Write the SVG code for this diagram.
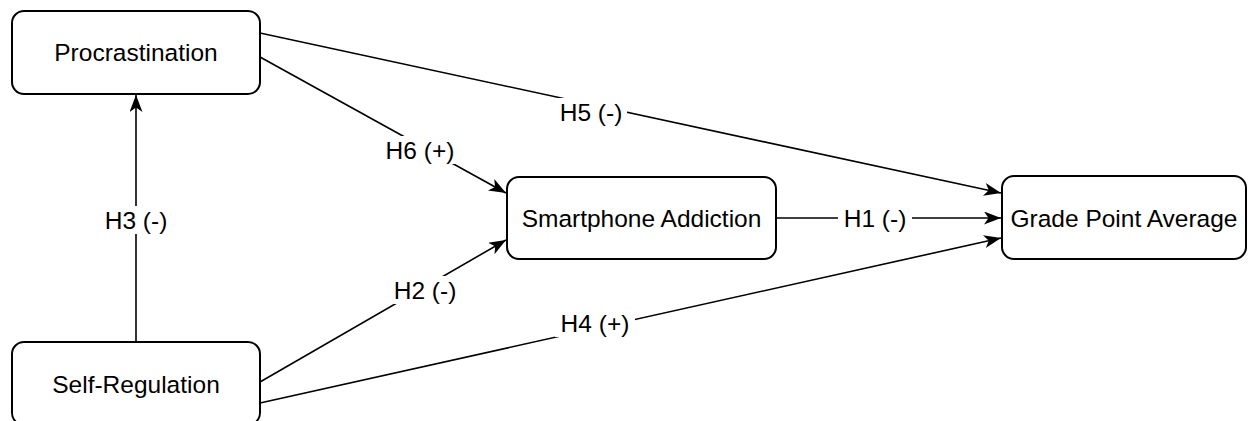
<svg xmlns="http://www.w3.org/2000/svg" width="1248" height="421" viewBox="0 0 1248 421">
<style>
.node rect{fill:#fff;stroke:#000;stroke-width:2}
text{font-family:"Liberation Sans",Arial,Helvetica,sans-serif;font-size:24.5px;fill:#000;text-anchor:middle;dominant-baseline:central}
.edge{stroke:#000;stroke-width:1.6;fill:none}
.lbl rect{fill:#fff}
</style>
<defs>
<marker id="arr" markerUnits="userSpaceOnUse" markerWidth="20" markerHeight="16" refX="17" refY="6.5" orient="auto">
<path d="M0,0 L17,6.5 L0,13 L4.5,6.5 Z" fill="#000"/>
</marker>
</defs>
<rect width="1248" height="421" fill="#fff"/>
<g id="connectors">
<line class="edge" x1="136" y1="342" x2="136" y2="95" marker-end="url(#arr)"/>
<line class="edge" x1="260" y1="57" x2="506" y2="193" marker-end="url(#arr)"/>
<line class="edge" x1="260" y1="33" x2="1001" y2="193" marker-end="url(#arr)"/>
<line class="edge" x1="776" y1="218" x2="1001" y2="218" marker-end="url(#arr)"/>
<line class="edge" x1="260" y1="382" x2="506" y2="240" marker-end="url(#arr)"/>
<line class="edge" x1="260" y1="403" x2="1001" y2="238" marker-end="url(#arr)"/>
<g class="lbl">
<rect x="99" y="206" width="74" height="28"/><text x="136" y="220">H3 (-)</text>
<rect x="380" y="136" width="80" height="28"/><text x="420" y="150">H6 (+)</text>
<rect x="555" y="98" width="72" height="28"/><text x="591" y="112">H5 (-)</text>
<rect x="838" y="204" width="74" height="28"/><text x="875" y="218">H1 (-)</text>
<rect x="389" y="276" width="72" height="28"/><text x="425" y="290">H2 (-)</text>
<rect x="555" y="309" width="80" height="28"/><text x="595" y="323">H4 (+)</text>
</g>
</g>
<g id="procrastination" class="node"><rect x="12" y="11" width="248" height="83" rx="12"/><text x="136" y="52.5">Procrastination</text></g>
<g id="self-regulation" class="node"><rect x="12" y="342" width="248" height="83" rx="12"/><text x="136" y="384">Self-Regulation</text></g>
<g id="smartphone-addiction" class="node"><rect x="507" y="177" width="269" height="82" rx="12"/><text x="641.5" y="218">Smartphone Addiction</text></g>
<g id="gpa" class="node"><rect x="1002" y="176" width="244" height="83" rx="12"/><text x="1124" y="218">Grade Point Average</text></g>
</svg>
